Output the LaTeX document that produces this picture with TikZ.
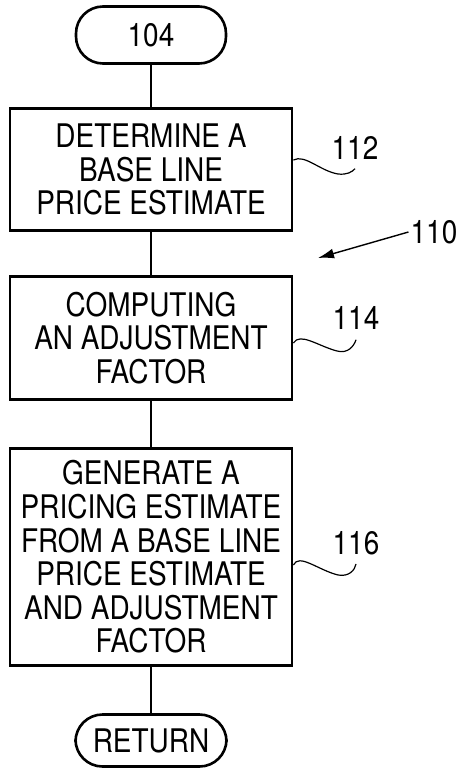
\documentclass[tikz,border=0pt]{standalone}
\usepackage{fontspec}
\setmainfont{TeX Gyre Heros}[FakeStretch=0.86]
\usetikzlibrary{arrows.meta}
\tikzset{
  term/.style={draw, line width=2.6pt, rounded corners=27pt, minimum width=150pt, minimum height=57pt},
  proc/.style={draw, line width=2.8pt, minimum width=282pt, align=center},
  num/.style={inner sep=2pt},
  link/.style={line width=2pt},
  wave/.style={line width=1.2pt}
}
\begin{document}
\begin{tikzpicture}[x=1pt, y=-1pt, font=\fontsize{32.5}{33.6}\selectfont]
\useasboundingbox (0,0) rectangle (462,770);
\node[term] (start) at (151,35) {104};
\node[proc, minimum height=122pt] (b112) at (151,169.5) {DETERMINE A\\BASE LINE\\PRICE ESTIMATE};
\node[proc, minimum height=123pt] (b114) at (151,338) {COMPUTING\\AN ADJUSTMENT\\FACTOR};
\node[proc, minimum height=217pt] (b116) at (151,557) {GENERATE A\\PRICING ESTIMATE\\FROM A BASE LINE\\PRICE ESTIMATE\\AND ADJUSTMENT\\FACTOR};
\node[term, minimum width=151pt, minimum height=52pt] (ret) at (151,740.5) {RETURN};
\node[num] (l112) at (355,148) {112};
\node[num] (l114) at (356,318) {114};
\node[num] (l116) at (356,543) {116};
\node[num] (l110) at (434,232) {110};
\coordinate (a110) at (318,258);
\draw [link] (start) -- (b112);
\draw [link] (b112) -- (b114);
\draw [link] (b114) -- (b116);
\draw [link] (b116) -- (ret);
\draw [wave] ([yshift=9.5pt]b112.east) .. controls (305,154) and (320,171) .. (338,174) .. controls (347,175) and (352,172) .. ([yshift=-7pt]l112.south);
\draw [wave] ([yshift=-5pt]b114.east) .. controls (300,332) and (318,346) .. (337,351) .. controls (348,354) and (354,346) .. ([yshift=-8pt]l114.south);
\draw [wave] ([yshift=-8pt]b116.east) .. controls (299,553) and (318,570) .. (338,575) .. controls (349,577) and (355,570) .. ([yshift=-7pt]l116.south);
\draw [-{Latex[length=16pt,width=10pt]}, line width=1.4pt] (l110.west) -- (a110);
\end{tikzpicture}
\end{document}
